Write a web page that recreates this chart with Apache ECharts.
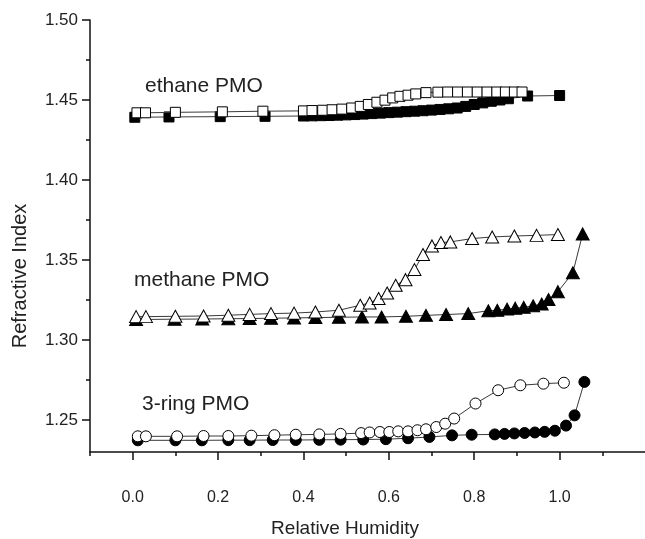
<!DOCTYPE html>
<html>
<head>
<meta charset="utf-8">
<script src="https://cdn.jsdelivr.net/npm/echarts@6/dist/echarts.min.js"></script>
<style>
html,body{margin:0;padding:0;background:#fff;}
#c{width:645px;height:539px;}
</style>
</head>
<body>
<div id="c"></div>
<script>
// ---- data ----
const xMajorTicks = [0, 0.2, 0.4, 0.6, 0.8, 1.0];
const xMinorTicks = [-0.1, 0.1, 0.3, 0.5, 0.7, 0.9, 1.1];
const yMajorTicks = [1.25, 1.30, 1.35, 1.40, 1.45, 1.50];
const yMinorTicks = [1.275, 1.325, 1.375, 1.425, 1.475];

const ethaneOpenX = [0.01,0.03,0.10,0.21,0.305,0.40,0.42,0.445,0.467,0.49,0.513,0.533,0.552,0.572,0.591,0.609,0.626,0.645,0.663,0.687,0.715,0.738,0.761,0.784,0.807,0.830,0.853,0.873,0.894,0.912];
const ethaneOpenY = [1.4420,1.4420,1.4423,1.4426,1.4430,1.4432,1.4434,1.4436,1.4439,1.4443,1.4450,1.4460,1.4472,1.4486,1.4499,1.4513,1.4523,1.4530,1.4538,1.4546,1.4549,1.4550,1.4550,1.4550,1.4550,1.4550,1.4550,1.4550,1.4550,1.4550];
const ethaneFillX = [0.005,0.085,0.205,0.31,0.40,0.42,0.44,0.46,0.48,0.50,0.52,0.54,0.56,0.58,0.60,0.62,0.64,0.66,0.68,0.70,0.72,0.74,0.76,0.78,0.80,0.82,0.84,0.86,0.88,0.925,1.0];
const ethaneFillY = [1.4392,1.4394,1.4396,1.4398,1.4400,1.4401,1.4402,1.4403,1.4405,1.4407,1.4409,1.4412,1.4415,1.4418,1.4421,1.4424,1.4427,1.4430,1.4433,1.4437,1.4441,1.4445,1.4450,1.4460,1.4472,1.4482,1.4492,1.4500,1.4508,1.4525,1.4528];

const methaneOpenX = [0.008,0.031,0.100,0.166,0.224,0.274,0.324,0.378,0.428,0.483,0.533,0.555,0.576,0.596,0.616,0.639,0.660,0.680,0.701,0.722,0.744,0.795,0.842,0.894,0.946,0.996];
const methaneOpenY = [1.3146,1.3146,1.3148,1.3150,1.3155,1.3160,1.3165,1.3168,1.3175,1.3186,1.3217,1.3231,1.3259,1.3294,1.3342,1.3377,1.3440,1.3534,1.3588,1.3609,1.3613,1.3634,1.3644,1.3650,1.3654,1.3659];
const methaneFillX = [0.008,0.098,0.163,0.224,0.274,0.324,0.378,0.428,0.483,0.537,0.583,0.640,0.687,0.734,0.786,0.833,0.854,0.877,0.896,0.916,0.938,0.958,0.974,0.996,1.031,1.054];
const methaneFillY = [1.3128,1.3130,1.3131,1.3133,1.3134,1.3136,1.3138,1.3140,1.3142,1.3144,1.3144,1.3148,1.3154,1.3159,1.3165,1.3183,1.3186,1.3193,1.3199,1.3204,1.3214,1.3225,1.3253,1.3302,1.3420,1.3663];

const ringOpenX = [0.012,0.031,0.104,0.166,0.224,0.278,0.332,0.382,0.437,0.487,0.535,0.555,0.579,0.601,0.622,0.645,0.667,0.687,0.711,0.732,0.753,0.803,0.856,0.908,0.962,1.010];
const ringOpenY = [1.2398,1.2398,1.2398,1.2400,1.2400,1.2402,1.2405,1.2408,1.2410,1.2413,1.2418,1.2422,1.2425,1.2425,1.2429,1.2429,1.2436,1.2442,1.2456,1.2477,1.2509,1.2603,1.2686,1.2717,1.2727,1.2733];
const ringFillX = [0.012,0.100,0.162,0.224,0.274,0.328,0.382,0.437,0.487,0.540,0.593,0.645,0.695,0.748,0.794,0.848,0.871,0.894,0.918,0.942,0.965,0.989,1.015,1.035,1.058];
const ringFillY = [1.2373,1.2373,1.2373,1.2374,1.2374,1.2375,1.2375,1.2376,1.2377,1.2378,1.2380,1.2386,1.2394,1.2404,1.2408,1.2410,1.2413,1.2416,1.2419,1.2422,1.2426,1.2433,1.2465,1.2529,1.2738];

const labels = [
  {text: 'ethane PMO', x: 145, y: 86},
  {text: 'methane PMO', x: 134, y: 280},
  {text: '3-ring PMO', x: 142, y: 404}
];

// ---- chart ----
const zip = (xs, ys) => xs.map((x, i) => [x, ys[i]]);
const FONT = '"Liberation Sans", Arial, Helvetica, sans-serif';
const lineCol = '#3a3a3a';

function mk(name, xs, ys, symbol, size, filled) {
  return {
    name: name, type: 'line', data: zip(xs, ys),
    symbol: symbol, symbolSize: size, showSymbol: true,
    lineStyle: {color: lineCol, width: 1},
    itemStyle: filled ? {color: '#000', borderColor: '#000', borderWidth: 1}
                      : {color: '#fff', borderColor: '#000', borderWidth: 1},
    z: filled ? 2 : 3,
    animation: false, silent: true
  };
}

const chart = echarts.init(document.getElementById('c'), null, {renderer: 'canvas'});
const axisLineStyle = {color: '#111', width: 1.5};
chart.setOption({
  animation: false,
  backgroundColor: '#fff',
  grid: {left: 90, top: 20, width: 568, height: 432, containLabel: false},
  xAxis: [{
    type: 'value', min: -0.1, max: 1.2,
    axisLine: {show: true, onZero: false, lineStyle: axisLineStyle},
    axisTick: {show: true, inside: false, length: 8, customValues: xMajorTicks, lineStyle: axisLineStyle},
    axisLabel: {customValues: xMajorTicks, formatter: v => v.toFixed(1), margin: 38, fontSize: 16, fontFamily: FONT, color: '#222'},
    splitLine: {show: false}
  }, {
    type: 'value', min: -0.1, max: 1.2, position: 'bottom',
    axisLine: {show: false, onZero: false},
    axisTick: {show: true, inside: false, length: 4, customValues: xMinorTicks, lineStyle: axisLineStyle},
    axisLabel: {show: false},
    splitLine: {show: false}
  }],
  yAxis: [{
    type: 'value', min: 1.23, max: 1.50,
    axisLine: {show: true, onZero: false, lineStyle: axisLineStyle},
    axisTick: {show: true, inside: false, length: 8, customValues: yMajorTicks, lineStyle: axisLineStyle},
    axisLabel: {customValues: yMajorTicks, formatter: v => v.toFixed(2), margin: 12, fontSize: 17, fontFamily: FONT, color: '#222'},
    splitLine: {show: false}
  }, {
    type: 'value', min: 1.23, max: 1.50, position: 'left',
    axisLine: {show: false, onZero: false},
    axisTick: {show: true, inside: false, length: 4, customValues: yMinorTicks, lineStyle: axisLineStyle},
    axisLabel: {show: false},
    splitLine: {show: false}
  }],
  series: [
    mk('ethane ads', ethaneFillX, ethaneFillY, 'rect', 10, true),
    mk('ethane des', ethaneOpenX, ethaneOpenY, 'rect', 10, false),
    mk('methane ads', methaneFillX, methaneFillY, 'triangle', [13, 12], true),
    mk('methane des', methaneOpenX, methaneOpenY, 'triangle', [13, 12], false),
    mk('3-ring ads', ringFillX, ringFillY, 'circle', 11, true),
    mk('3-ring des', ringOpenX, ringOpenY, 'circle', 11, false)
  ],
  graphic: [
    {type: 'text', x: 345, y: 529, style: {text: 'Relative Humidity', font: '19px ' + FONT, fill: '#222', align: 'center', verticalAlign: 'middle'}},
    {type: 'text', x: 20, y: 276, rotation: Math.PI / 2, style: {text: 'Refractive Index', font: '20px ' + FONT, fill: '#222', align: 'center', verticalAlign: 'middle'}}
  ].concat(labels.map(l => ({
    type: 'text', x: l.x, y: l.y,
    style: {text: l.text, font: '21px ' + FONT, fill: '#222', align: 'left', verticalAlign: 'middle'}
  })))
});
</script>
</body>
</html>
